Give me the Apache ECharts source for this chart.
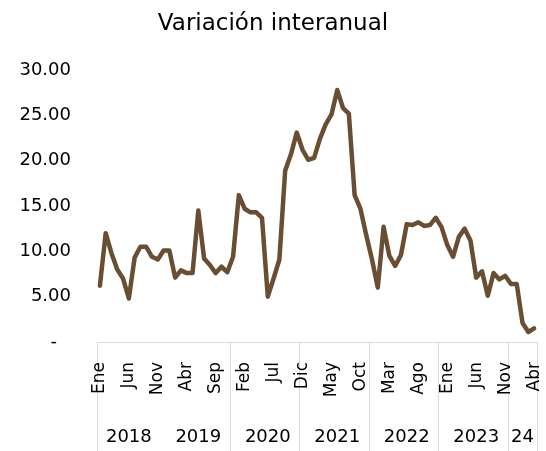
<!DOCTYPE html>
<html>
<head>
<meta charset="utf-8">
<script src="https://cdn.jsdelivr.net/npm/echarts@6/dist/echarts.min.js"></script>
<style>
  html, body { margin: 0; padding: 0; background: #fff; }
  #chart { width: 546px; height: 451px; }
</style>
</head>
<body>
<div id="chart"></div>
<script>
// meses y años del eje
var monthNames = ['Ene', 'Feb', 'Mar', 'Abr', 'May', 'Jun', 'Jul', 'Ago', 'Sep', 'Oct', 'Nov', 'Dic'];
var years = [2018, 2019, 2020, 2021, 2022, 2023, 2024];
var lastYearMonths = 4; // 2024 llega hasta Abr

// etiquetas del segundo nivel (años) y cuántos meses abarca cada grupo
var yearLabels = ['2018', '2019', '2020', '2021', '2022', '2023', '24'];
var yearGroupSizes = [11, 12, 12, 12, 12, 12, 5];

// variación interanual (%)
var values = [
  6.2, 12.0, 9.8, 8.0, 7.0, 4.8, 9.3, 10.5, 10.5, 9.4, 9.1, 10.1,
  10.1, 7.1, 7.9, 7.6, 7.6, 14.5, 9.2, 8.5, 7.6, 8.3, 7.7, 9.4,
  16.2, 14.7, 14.3, 14.3, 13.7, 5.0, 7.0, 9.1, 18.9, 20.7, 23.1, 21.2,
  20.1, 20.3, 22.4, 24.0, 25.1, 27.8, 25.8, 25.2, 16.2, 14.7, 11.8, 9.1,
  6.0, 12.7, 9.5, 8.4, 9.6, 13.0, 12.9, 13.2, 12.8, 12.9, 13.7, 12.7,
  10.7, 9.4, 11.6, 12.5, 11.2, 7.1, 7.8, 5.1, 7.6, 6.9, 7.3, 6.4,
  6.4, 2.1, 1.1, 1.5
];

var categories = [];
years.forEach(function (y, k) {
  var n = k === years.length - 1 ? lastYearMonths : 12;
  for (var m = 0; m < n; m++) categories.push(monthNames[m] + ' ' + y);
});

// posición de cada etiqueta de año y de los separadores
var yearLabelAt = {};
var groupStarts = [];
var start = 0;
yearGroupSizes.forEach(function (size, k) {
  groupStarts.push(start);
  yearLabelAt[start + Math.floor(size / 2)] = yearLabels[k];
  start += size;
});

var fontFam = '"DejaVu Sans", sans-serif';
var chart = echarts.init(document.getElementById('chart'));

var option = {
  animation: false,
  title: {
    text: 'Variación interanual',
    left: 'center',
    top: 8,
    textStyle: { fontFamily: fontFam, fontSize: 23, fontWeight: 'normal', color: '#000' }
  },
  grid: { left: 97, right: 9, top: 70, bottom: 109, containLabel: false },
  xAxis: [
    {
      type: 'category',
      data: categories,
      boundaryGap: true,
      axisLine: { show: true, lineStyle: { color: '#d9d9d9', width: 1 } },
      axisTick: { show: false },
      axisLabel: {
        interval: 4,
        rotate: 90,
        margin: 20,
        color: '#000',
        fontFamily: fontFam,
        fontSize: 17,
        formatter: function (v) { return v.split(' ')[0]; }
      }
    },
    {
      type: 'category',
      data: categories,
      position: 'bottom',
      offset: 109,
      boundaryGap: true,
      axisLine: { show: false },
      axisTick: {
        show: true,
        inside: true,
        length: 109,
        interval: function (i) { return groupStarts.indexOf(i) >= 0 && i !== groupStarts[1]; },
        lineStyle: { color: '#d9d9d9', width: 1 }
      },
      axisLabel: {
        interval: 0,
        margin: -23,
        color: '#000',
        fontFamily: fontFam,
        fontSize: 18,
        formatter: function (v, i) { return yearLabelAt[i] || ''; }
      }
    }
  ],
  yAxis: {
    type: 'value',
    min: 0,
    max: 30,
    interval: 5,
    axisLine: { show: false },
    axisTick: { show: false },
    splitLine: { show: false },
    axisLabel: {
      margin: 26,
      color: '#000',
      fontFamily: fontFam,
      fontSize: 18,
      formatter: function (v) { return v === 0 ? '{d|-}' : v.toFixed(2); },
      rich: { d: { fontFamily: fontFam, fontSize: 18, color: '#000', padding: [0, 14, 0, 0] } }
    }
  },
  series: [{
    type: 'line',
    data: values,
    showSymbol: false,
    symbol: 'none',
    lineStyle: { color: '#6a4e33', width: 4.5, join: 'round', cap: 'round' }
  }]
};

chart.setOption(option);
</script>
</body>
</html>
